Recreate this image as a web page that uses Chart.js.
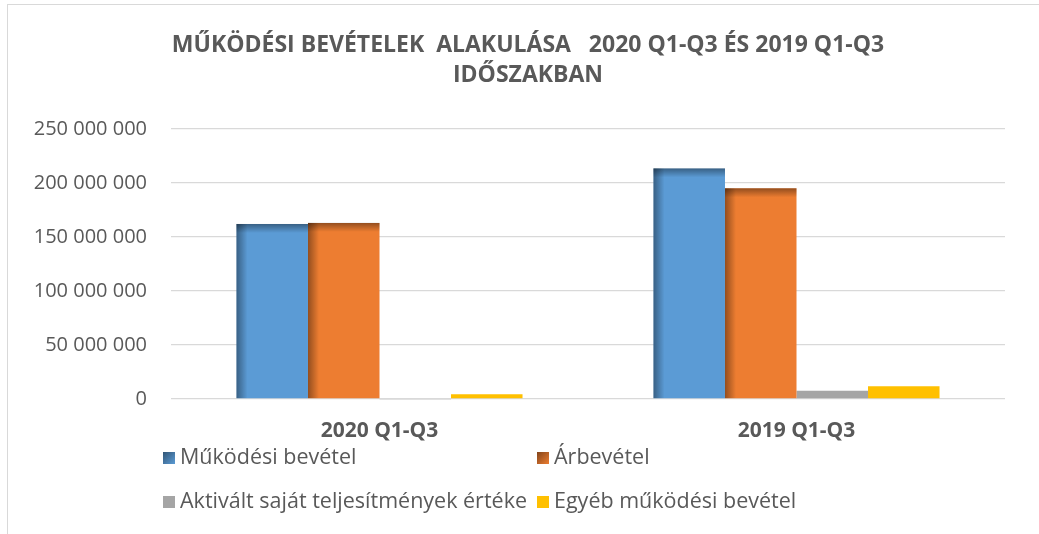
<!DOCTYPE html>
<html lang="hu">
<head>
    <meta charset="UTF-8">
    <title>Működési bevételek</title>
    <script src="https://cdn.jsdelivr.net/npm/chart.js"></script>
    <style>
        body { margin: 0; background: #fff; }
        #wrap { position: relative; width: 1039px; height: 534px; }
        #frame { position: absolute; left: 7px; top: 4px; right: -2px; bottom: -2px;
                 border-left: 1px solid #d9d9d9; border-top: 1px solid #d9d9d9; }
        #revenueChart { position: absolute; left: 0; top: 0; }
    </style>
</head>
<body>
<div id="wrap">
    <div id="frame"></div>
    <canvas id="revenueChart" width="1039" height="534"></canvas>
</div>

<script>
    // periods on the x axis
    var periods = ["2020 Q1-Q3", "2019 Q1-Q3"];

    // series (HUF)
    var mukodesiBevetel = [162000000, 213500000];
    var arbevetel = [163000000, 195000000];
    var aktivaltSajat = [-800000, 7400000];
    var egyebBevetel = [4300000, 11700000];

    var seriesNames = ["Működési bevétel", "Árbevétel", "Aktivált saját teljesítmények értéke", "Egyéb működési bevétel"];
    var seriesColors = ["#5B9BD5", "#ED7D31", "#A5A5A5", "#FFC000"];
    var seriesShaded = [true, true, false, false];

    var titleLines = ["MŰKÖDÉSI BEVÉTELEK  ALAKULÁSA   2020 Q1-Q3 ÉS 2019 Q1-Q3", "IDŐSZAKBAN"];

    var grey = "#595959";

    function spaced(v) {
        return String(v).replace(/\B(?=(\d{3})+(?!\d))/g, " ");
    }

    // darker inner edge on left/top of the bars, like the Office bevel
    var bevelPlugin = {
        id: 'bevel',
        afterDatasetDraw: function (chart, args) {
            if (!seriesShaded[args.index]) return;
            var ctx = chart.ctx;
            ctx.save();
            args.meta.data.forEach(function (bar) {
                var p = bar.getProps(['x', 'y', 'base', 'width'], true);
                var left = p.x - p.width / 2;
                var top = Math.min(p.y, p.base);
                var h = Math.abs(p.base - p.y);
                var g = ctx.createLinearGradient(left, 0, left + 11, 0);
                g.addColorStop(0, 'rgba(0,0,0,0.38)');
                g.addColorStop(1, 'rgba(0,0,0,0)');
                ctx.fillStyle = g;
                ctx.fillRect(left, top, 11, h);
                var g2 = ctx.createLinearGradient(0, top, 0, top + 9);
                g2.addColorStop(0, 'rgba(0,0,0,0.38)');
                g2.addColorStop(1, 'rgba(0,0,0,0)');
                ctx.fillStyle = g2;
                ctx.fillRect(left, top, p.width, 9);
            });
            ctx.restore();
        }
    };

    // title, slightly right of the canvas centre as in the original
    var titlePlugin = {
        id: 'topTitle',
        afterDraw: function (chart) {
            var ctx = chart.ctx;
            ctx.save();
            ctx.font = 'bold 23px "Open Sans"';
            ctx.fillStyle = grey;
            ctx.textAlign = 'center';
            ctx.textBaseline = 'middle';
            ctx.fillText(titleLines[0], 528, 45);
            ctx.fillText(titleLines[1], 528, 75);
            ctx.restore();
        }
    };

    // two-column legend under the axis
    var legendPlugin = {
        id: 'gridLegend',
        afterDraw: function (chart) {
            var ctx = chart.ctx;
            var cols = [163, 537];
            var rows = [458, 502];
            ctx.save();
            ctx.font = '21.5px "Open Sans"';
            ctx.textBaseline = 'middle';
            chart.data.datasets.forEach(function (ds, i) {
                var x = cols[i % 2];
                var y = rows[Math.floor(i / 2)];
                ctx.fillStyle = ds.backgroundColor;
                ctx.fillRect(x, y - 6, 12, 12);
                if (seriesShaded[i]) {
                    var g = ctx.createLinearGradient(x, y - 6, x + 12, y + 6);
                    g.addColorStop(0, 'rgba(0,0,0,0.45)');
                    g.addColorStop(1, 'rgba(0,0,0,0)');
                    ctx.fillStyle = g;
                    ctx.fillRect(x, y - 6, 12, 12);
                }
                ctx.fillStyle = grey;
                ctx.fillText(ds.label, x + 17, y);
            });
            ctx.restore();
        }
    };

    document.addEventListener('DOMContentLoaded', function () {
        var values = [mukodesiBevetel, arbevetel, aktivaltSajat, egyebBevetel];
        var datasets = values.map(function (data, i) {
            return {
                label: seriesNames[i],
                data: data,
                backgroundColor: seriesColors[i],
                borderWidth: 0,
                categoryPercentage: 0.686,
                barPercentage: 1,
                clip: false
            };
        });

        var ctx = document.getElementById('revenueChart').getContext('2d');
        new Chart(ctx, {
            type: 'bar',
            data: { labels: periods, datasets: datasets },
            options: {
                responsive: false,
                animation: false,
                layout: { padding: { left: 0, right: 34, top: 129, bottom: 70 } },
                plugins: {
                    legend: { display: false },
                    tooltip: { enabled: false },
                    title: { display: false }
                },
                scales: {
                    x: {
                        grid: { display: false, drawTicks: false },
                        border: { display: false },
                        ticks: {
                            color: grey,
                            padding: 20,
                            font: { family: '"Open Sans"', size: 21, weight: 'bold' }
                        }
                    },
                    y: {
                        min: 0,
                        max: 250000000,
                        afterFit: function (scale) { scale.width = 171; },
                        grid: { color: '#d9d9d9', lineWidth: 1.3, drawTicks: false },
                        border: { display: false },
                        ticks: {
                            stepSize: 50000000,
                            color: grey,
                            padding: 24,
                            font: { family: '"Open Sans"', size: 20 },
                            callback: function (v) { return spaced(v); }
                        }
                    }
                }
            },
            plugins: [bevelPlugin, titlePlugin, legendPlugin]
        });
    });
</script>
</body>
</html>
